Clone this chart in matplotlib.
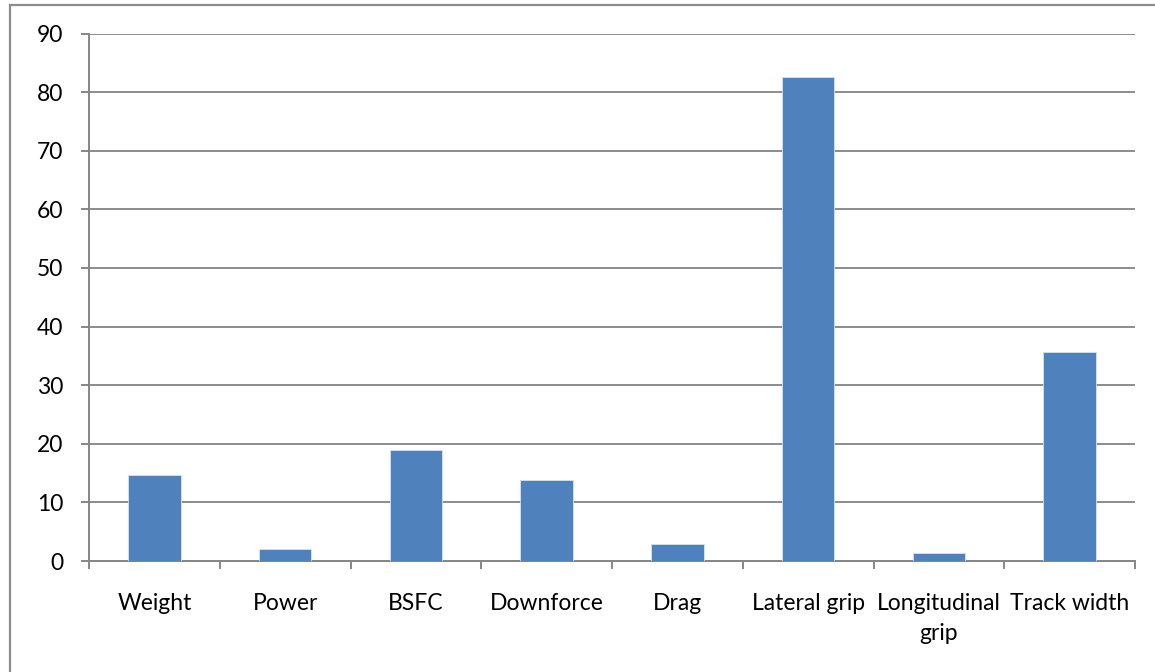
import numpy as np
import matplotlib.pyplot as plt
from matplotlib.patches import Rectangle

categories = ['Weight', 'Power', 'BSFC', 'Downforce', 'Drag', 'Lateral grip',
              'Longitudinal\ngrip', 'Track width']
values = [14.7, 2.05, 18.9, 13.8, 2.9, 82.5, 1.37, 35.7]
yticks = [0, 10, 20, 30, 40, 50, 60, 70, 80, 90]

plt.rcParams['font.family'] = ['Lato', 'DejaVu Sans']

fig = plt.figure(figsize=(11.55, 6.72), dpi=100)
ax = fig.add_axes([89/1155, 1-561/672, (1135-89)/1155, (561-33.5)/672])

x = np.arange(len(categories))
ax.bar(x, values, width=0.4, color='#4F81BD', edgecolor='#D6E2F0', linewidth=0.6, zorder=3)

ax.set_xlim(-0.5, len(categories)-0.5)
ax.set_ylim(0, 90)
ax.set_yticks(yticks)
ax.yaxis.grid(True, color='#8C8C8C', lw=1.4)
ax.set_axisbelow(True)

# ticks sit between the categories, labels in the middle
ax.set_xticks(np.arange(len(categories)+1)-0.5)
ax.set_xticklabels([])
ax.set_xticks(x, minor=True)
ax.set_xticklabels(categories, minor=True, fontsize=16.5, linespacing=1.52)
ax.tick_params(axis='x', which='minor', length=0, pad=23)
ax.tick_params(axis='x', which='major', length=5.5, width=1.4, color='#868686', direction='out')
ax.tick_params(axis='y', length=5.8, width=1.4, color='#868686', labelsize=16.5, pad=12.5)

for s in ['top', 'right']:
    ax.spines[s].set_visible(False)
for s in ['left', 'bottom']:
    ax.spines[s].set_color('#868686')
    ax.spines[s].set_linewidth(1.4)

fig.patches.append(Rectangle((9.5/1155, -0.1), 1.2, 1.1-5.5/672, transform=fig.transFigure,
                             fill=False, edgecolor='#8C8C8C', lw=1.6))

fig.savefig('out.png', dpi=100)
